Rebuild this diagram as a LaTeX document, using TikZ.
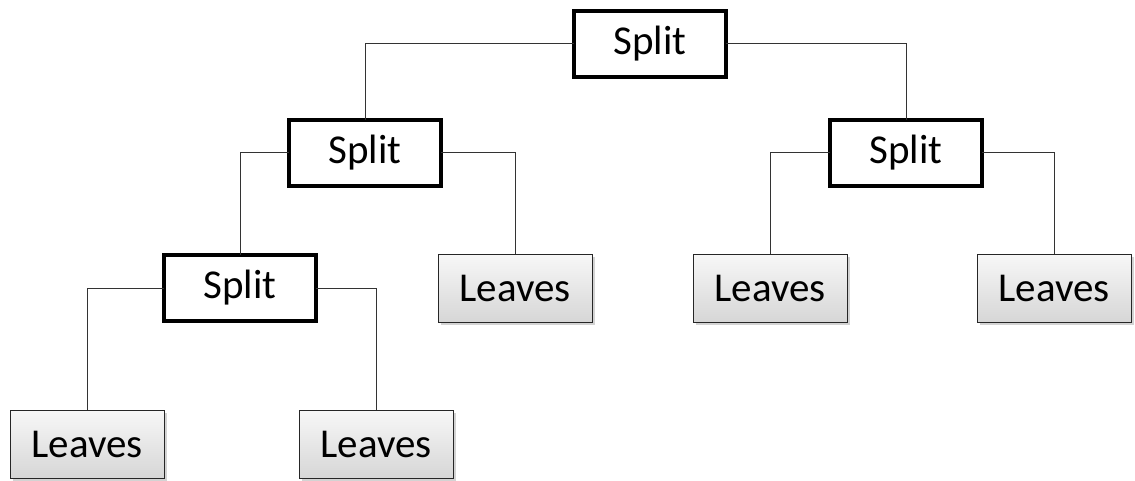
\documentclass[tikz,border=0pt]{standalone}
\usepackage{fontspec}
\setmainfont{Carlito}
\usetikzlibrary{shadows}

\begin{document}
\begin{tikzpicture}[x=1pt, y=-1pt,
    splitbox/.style={draw, line width=4pt, fill=white, minimum width=152pt, minimum height=66pt,
        inner sep=0pt, outer sep=0pt, font=\fontsize{41}{48}\selectfont},
    leafbox/.style={draw=black!85, line width=0.9pt, top color=gray!6, bottom color=gray!32,
        minimum width=154pt, minimum height=68pt, inner sep=0pt, outer sep=0pt,
        drop shadow={shadow xshift=3pt, shadow yshift=-3pt, opacity=0.35},
        font=\fontsize{41}{48}\selectfont},
    link/.style={draw=black!80, line width=1pt}]

        % Fix the page to the size of the reference
        \useasboundingbox (0,0) rectangle (1135,481);

        % Split nodes
        \node[splitbox] (root) at (650,44) {Split};
        \node[splitbox] (lsplit) at (365,153) {Split};
        \node[splitbox] (rsplit) at (906,153) {Split};
        \node[splitbox] (llsplit) at (240,288) {Split};

        % Leaves
        \node[leafbox] (lleaf) at (515,288) {Leaves};
        \node[leafbox] (rleafa) at (770,288) {Leaves};
        \node[leafbox] (rleafb) at (1054,288) {Leaves};
        \node[leafbox] (bleafa) at (87,444) {Leaves};
        \node[leafbox] (bleafb) at (376,444) {Leaves};

        % Connectors, elbow from side of parent to top of child
        \path[link] (root.west) -| (lsplit.north);
        \path[link] (root.east) -| (rsplit.north);
        \path[link] (lsplit.west) -| (llsplit.north);
        \path[link] (lsplit.east) -| (lleaf.north);
        \path[link] (rsplit.west) -| (rleafa.north);
        \path[link] (rsplit.east) -| (rleafb.north);
        \path[link] (llsplit.west) -| (bleafa.north);
        \path[link] (llsplit.east) -| (bleafb.north);

    \end{tikzpicture}
\end{document}
